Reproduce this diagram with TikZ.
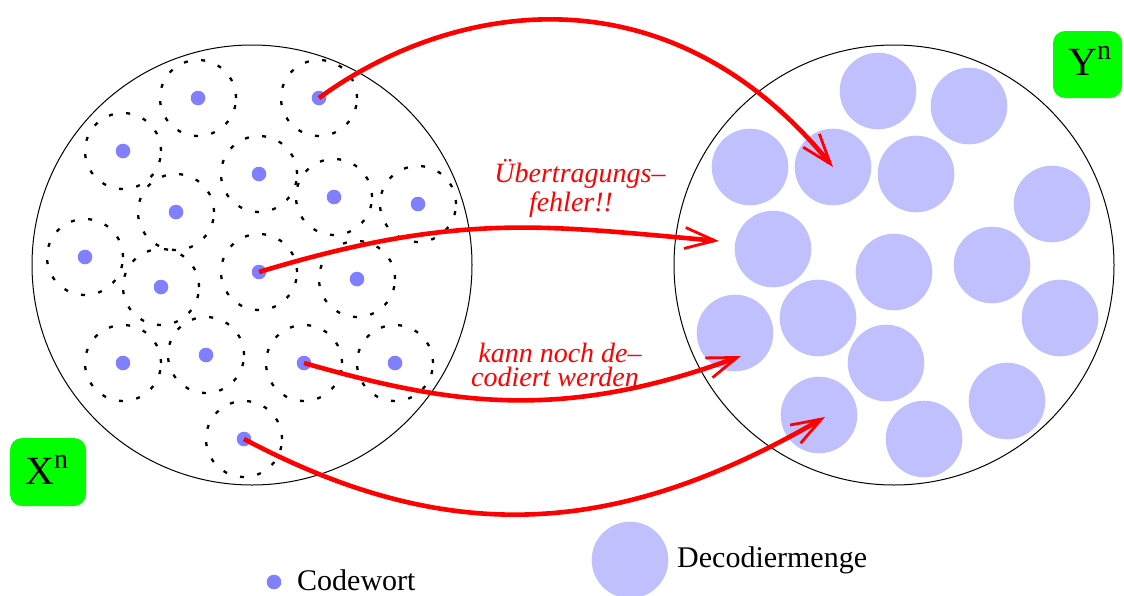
\documentclass[tikz,border=0pt]{standalone}
\usepackage{fontspec}
\setmainfont{Liberation Serif}
\usetikzlibrary{arrows.meta}
\definecolor{cwblue}{HTML}{8080FF}
\definecolor{decblue}{HTML}{C0C0FF}
\definecolor{lbgreen}{HTML}{00FF00}
\begin{document}
\begin{tikzpicture}[x=1pt,y=-1pt,
  codeword/.style={circle,fill=cwblue,inner sep=0pt,minimum size=14.6pt},
  ring/.style={draw=black,line width=2.3pt,dash pattern=on 4pt off 13.5pt},
  decset/.style={circle,fill=decblue,inner sep=0pt,minimum size=76.6pt},
  bigset/.style={circle,draw=black,line width=1pt,inner sep=0pt,minimum size=440pt},
  errarrow/.style={draw=red,line width=4.6pt,-{Straight Barb[length=30pt,width=21pt,line width=2.8pt]}},
  errlabel/.style={text=red,font=\itshape\fontsize{28}{28}\selectfont,inner sep=0pt,anchor=base},
  spacebox/.style={fill=lbgreen,rounded corners=12pt,inner sep=0pt},
  spacename/.style={font=\fontsize{40}{40}\selectfont,inner sep=0pt,anchor=base west},
  legendtext/.style={font=\fontsize{30}{30}\selectfont,inner sep=0pt,anchor=base west}
]
\useasboundingbox (0,0) rectangle (1124,595);

% big sets
\node[bigset] (Xset) at (252,265) {};
\node[bigset] (Yset) at (894,265) {};

% codewords
\foreach \i/\x/\y in {1/198/98,2/319/98,3/123/151,4/259/174,5/334/197,6/418/204,
  7/176/212,8/85/257,9/259/272,10/357/279,11/161/287,12/123/363,13/206/355,
  14/304/363,15/395/363,16/244/439}
  {\node[codeword] (c\i) at (\x,\y) {};}
\foreach \i in {1,...,16}
  {\draw[ring] (c\i.center) circle (38pt);}

% decoding sets
\foreach \i/\x/\y in {1/878/91,2/969/106,3/750/167,4/833/167,5/916/174,6/1052/204,
  7/773/249,8/894/272,9/992/265,10/735/333,11/818/318,12/1060/318,13/886/363,
  14/819/415,15/1007/401,16/924/439}
  {\node[decset] (d\i) at (\x,\y) {};}

% arrow ends
\coordinate (t2) at (719,241);
\coordinate (t3) at (741,356);
\coordinate (t4) at (825,417);

% arrows
\draw[errarrow] (c2.center) .. controls (446,5) and (663,-40) .. (d4.center);
\draw[errarrow] (c9.center) .. controls (460,211) and (547,226) .. (t2);
\draw[errarrow] (c14.center) .. controls (451,405) and (561,422) .. (t3);
\draw[errarrow] (c16.center) .. controls (451.5,549) and (619,536) .. (t4);

% labels
\node[errlabel] (err1) at (580,182) {Übertragungs–};
\node[errlabel] (err2) at (571,211) {fehler!!};
\node[errlabel] (ok1) at (560,362) {kann noch de–};
\node[errlabel] (ok2) at (555,386) {codiert werden};

% space boxes
\node[spacebox,minimum width=76pt,minimum height=68pt] (Xbox) at (48,472) {};
\node[spacename] (Xname) at (25,484) {X\raisebox{16pt}{\fontsize{28}{28}\selectfont n}};
\node[spacebox,minimum width=69pt,minimum height=67pt] (Ybox) at (1087.5,64.5) {};
\node[spacename] (Yname) at (1068,75) {Y\raisebox{16pt}{\fontsize{28}{28}\selectfont n}};

% legend
\node[codeword] (legcw) at (274,582) {};
\node[legendtext] (legcwtext) at (297,590) {Codewort};
\node[decset] (legdec) at (630,560) {};
\node[legendtext] (legdectext) at (677,567) {Decodiermenge};
\end{tikzpicture}
\end{document}
